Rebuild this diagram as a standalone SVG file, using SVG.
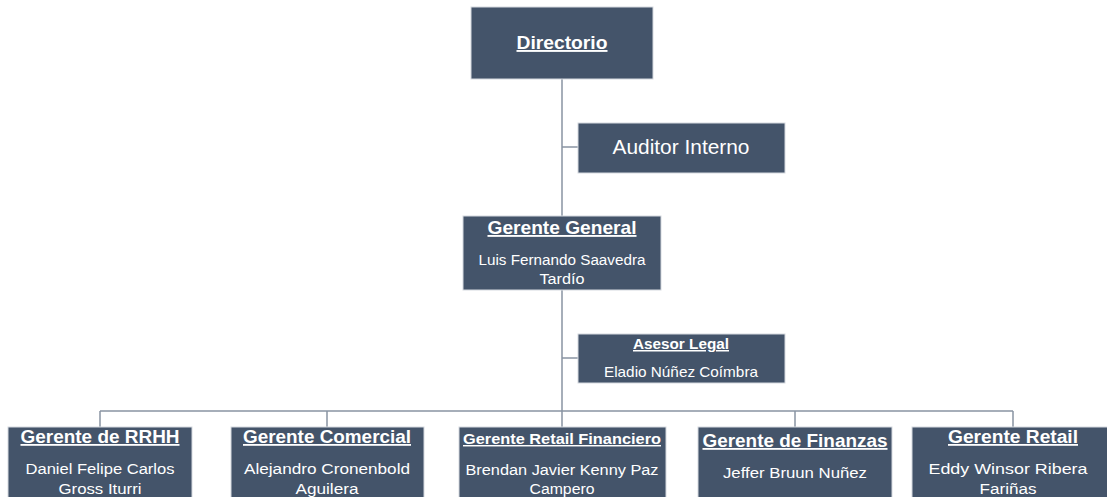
<svg xmlns="http://www.w3.org/2000/svg" width="1107" height="497" viewBox="0 0 1107 497">
<style>
.box{fill:#44546A;stroke:#d5d9df;stroke-width:1}
.t{fill:#ffffff;font-family:"Liberation Sans",Arial,sans-serif;text-anchor:middle}
.h{font-weight:bold;text-decoration:underline}
.c{fill:none;stroke:#8994a3;stroke-width:1.5}
</style>
<rect width="1107" height="497" fill="#ffffff"/>
<g id="connectors">
<path class="c" d="M562 79V411M562 147H578M562 358H578M100 411H1013M100 411V427M327 411V427M562 411V427M795 411V427M1013 411V427"/>
</g>
<g id="directorio">
<rect class="box" x="471" y="7" width="182" height="72"/>
<text class="t h" x="562" y="49" font-size="19" textLength="91" lengthAdjust="spacingAndGlyphs">Directorio</text>
</g>
<g id="auditor">
<rect class="box" x="578" y="123" width="207" height="50"/>
<text class="t" x="681" y="154" font-size="20" textLength="137" lengthAdjust="spacingAndGlyphs">Auditor Interno</text>
</g>
<g id="gerente-general">
<rect class="box" x="463" y="216" width="198" height="74"/>
<text class="t h" x="562" y="234" font-size="18.5" textLength="149" lengthAdjust="spacingAndGlyphs">Gerente General</text>
<text class="t" x="562" y="265" font-size="15.2" textLength="167" lengthAdjust="spacingAndGlyphs">Luis Fernando Saavedra</text>
<text class="t" x="562" y="284" font-size="15.2" textLength="45" lengthAdjust="spacingAndGlyphs">Tardío</text>
</g>
<g id="asesor-legal">
<rect class="box" x="578" y="334" width="207" height="49"/>
<text class="t h" x="681" y="349" font-size="15" textLength="96" lengthAdjust="spacingAndGlyphs">Asesor Legal</text>
<text class="t" x="681" y="377" font-size="15" textLength="154" lengthAdjust="spacingAndGlyphs">Eladio Núñez Coímbra</text>
</g>
<g id="rrhh">
<rect class="box" x="8" y="427" width="184" height="75"/>
<text class="t h" x="100" y="443" font-size="18" textLength="159" lengthAdjust="spacingAndGlyphs">Gerente de RRHH</text>
<text class="t" x="100" y="474" font-size="15.5" textLength="149" lengthAdjust="spacingAndGlyphs">Daniel Felipe Carlos</text>
<text class="t" x="100" y="494" font-size="15.5" textLength="83" lengthAdjust="spacingAndGlyphs">Gross Iturri</text>
</g>
<g id="comercial">
<rect class="box" x="231" y="427" width="193" height="75"/>
<text class="t h" x="327" y="443" font-size="18" textLength="168" lengthAdjust="spacingAndGlyphs">Gerente Comercial</text>
<text class="t" x="327" y="474" font-size="15.5" textLength="166" lengthAdjust="spacingAndGlyphs">Alejandro Cronenbold</text>
<text class="t" x="327" y="494" font-size="15.5" textLength="63" lengthAdjust="spacingAndGlyphs">Aguilera</text>
</g>
<g id="retail-financiero">
<rect class="box" x="459" y="427" width="207" height="75"/>
<text class="t h" x="562" y="444" font-size="14.5" textLength="198" lengthAdjust="spacingAndGlyphs">Gerente Retail Financiero</text>
<text class="t" x="562" y="475" font-size="15.5" textLength="193" lengthAdjust="spacingAndGlyphs">Brendan Javier Kenny Paz</text>
<text class="t" x="562" y="494" font-size="15.5" textLength="65" lengthAdjust="spacingAndGlyphs">Campero</text>
</g>
<g id="finanzas">
<rect class="box" x="698" y="427" width="194" height="75"/>
<text class="t h" x="795" y="447" font-size="18" textLength="185" lengthAdjust="spacingAndGlyphs">Gerente de Finanzas</text>
<text class="t" x="795" y="478" font-size="15.5" textLength="144" lengthAdjust="spacingAndGlyphs">Jeffer Bruun Nuñez</text>
</g>
<g id="retail">
<rect class="box" x="912" y="427" width="202" height="75"/>
<text class="t h" x="1013" y="443" font-size="18" textLength="130" lengthAdjust="spacingAndGlyphs">Gerente Retail</text>
<text class="t" x="1008" y="474" font-size="15.5" textLength="159" lengthAdjust="spacingAndGlyphs">Eddy Winsor Ribera</text>
<text class="t" x="1008" y="494" font-size="15.5" textLength="57" lengthAdjust="spacingAndGlyphs">Fariñas</text>
</g>
</svg>
